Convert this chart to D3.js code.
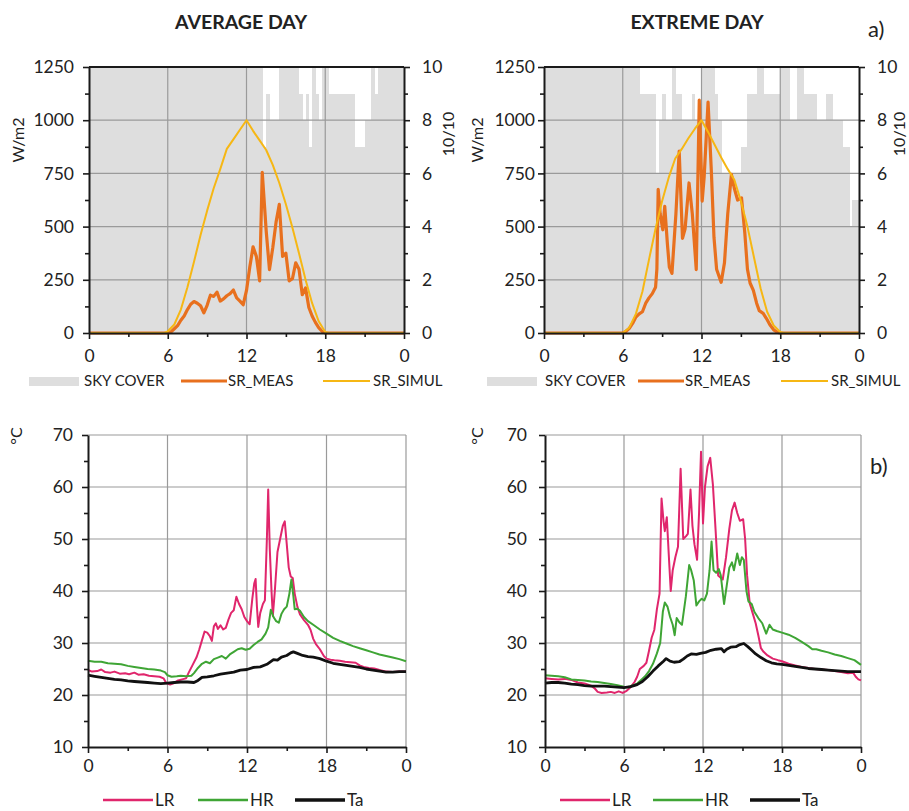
<!DOCTYPE html>
<html>
<head>
<meta charset="utf-8">
<script src="https://cdn.jsdelivr.net/npm/d3@7"></script>
<style>
  body { margin: 0; background: #fff; }
  svg text { font-family: Lato, "Open Sans", sans-serif; fill: #222; }
</style>
</head>
<body>
<div id="fig"></div>
<script>
// ---- axis ticks / labels ----
const hourTicks = [0, 6, 12, 18, 24];
const hourLabels = ["0", "6", "12", "18", "0"];
const hourMinor = [3, 9, 15, 21];
const srTicks = [0, 250, 500, 750, 1000, 1250];
const srMinor = [125, 375, 625, 875, 1125];
const skyTicks = [0, 2, 4, 6, 8, 10];
const skyMinor = [1, 3, 5, 7, 9];
const tempTicks = [10, 20, 30, 40, 50, 60, 70];
const tempMinor = [15, 25, 35, 45, 55, 65];

// ---- sky cover, tenths, one value per 15 min (96) ----
const avgSky = [
  10,10,10,10,10,10,10,10,10,10,10,10,10,10,10,10,10,10,10,10,10,10,10,10,
  10,10,10,10,10,10,10,10,10,10,10,10,10,10,10,10,10,10,10,10,10,10,10,10,
  10,10,10,10,10,7,9,8,8,8,10,10,10,10,10,10,9,8,9,7,10,9,8,10,
  10,9,9,9,9,9,9,9,9,7,7,7,8,8,10,9,10,10,10,10,10,10,10,10
];
const extSky = [
  10,10,10,10,10,10,10,10,10,10,10,10,10,10,10,10,10,10,10,10,10,10,10,10,
  10,10,10,10,10,9,9,9,9,9,6,8,9,8,8,10,9,9,8,8,8,9,8,8,
  10,10,10,10,9,8,6,6,6,6,6,6,7,7,9,9,9,10,10,9,9,9,9,9,
  10,10,10,8,8,10,10,9,9,9,9,8,8,8,9,9,8,8,8,7,7,4,5,5
];

// ---- solar radiation [hour, W/m2] ----
const avgMeas = [[0,0],[6,0],[6.25,5],[6.5,20],[6.75,35],[7,60],[7.25,80],[7.5,110],[7.75,135],[8,148],[8.25,140],[8.5,128],[8.75,95],[9,130],[9.25,178],[9.5,172],[9.75,192],[10,150],[10.25,160],[10.5,175],[10.75,185],[11,202],[11.25,165],[11.5,150],[11.75,133],[12,200],[12.25,310],[12.5,405],[12.75,360],[13,245],[13.2,755],[13.5,480],[13.75,298],[14,400],[14.25,520],[14.5,605],[14.75,360],[15,375],[15.25,245],[15.5,255],[15.75,330],[16,300],[16.25,180],[16.5,212],[16.75,120],[17,80],[17.25,50],[17.5,25],[17.75,8],[18,0],[24,0]];
const avgSimul = [[0,0],[5.75,0],[6,8],[6.5,40],[7,110],[7.5,215],[8,335],[8.5,460],[9,575],[9.5,680],[10,770],[10.5,865],[11,910],[11.5,955],[12,1000],[12.5,950],[13,905],[13.5,860],[14,790],[14.5,705],[15,605],[15.5,495],[16,375],[16.5,250],[17,140],[17.5,55],[18,5],[18.25,0],[24,0]];
const extMeas = [[0,0],[6,0],[6.25,8],[6.5,22],[6.75,45],[7,75],[7.25,90],[7.5,100],[7.75,140],[8,165],[8.25,185],[8.5,215],[8.6,300],[8.7,675],[8.85,560],[9.05,485],[9.2,595],[9.4,420],[9.55,310],[9.75,280],[10.05,560],[10.3,855],[10.55,445],[10.75,490],[11.05,705],[11.3,560],[11.6,298],[11.83,1095],[12.05,620],[12.2,730],[12.5,1085],[12.75,760],[12.95,450],[13.15,300],[13.5,238],[13.75,330],[14,560],[14.28,745],[14.5,680],[14.75,625],[15.05,635],[15.3,470],[15.5,300],[15.7,235],[15.95,200],[16.2,140],[16.4,105],[16.7,92],[16.95,68],[17.2,40],[17.5,15],[17.8,3],[18,0],[24,0]];
const extSimul = [[0,0],[6,0],[6.5,25],[7,90],[7.5,195],[8,345],[8.5,490],[9,620],[9.5,730],[10,820],[10.5,865],[11,915],[11.5,960],[12,1000],[12.5,945],[13,885],[13.5,825],[14,770],[14.5,720],[15,620],[15.5,500],[16,355],[16.5,210],[17,100],[17.5,35],[18,5],[18.25,0],[24,0]];

// ---- temperatures [hour, degC] ----
const avgLR = [[0,24.8],[0.3,24.5],[0.7,24.6],[1,24.9],[1.3,24.4],[1.7,24.3],[2,24.5],[2.4,24.1],[2.8,24.2],[3.1,24.0],[3.5,24.3],[3.8,23.9],[4.2,24.0],[4.6,23.7],[5,23.6],[5.4,23.5],[5.7,23.2],[5.9,22.3],[6.2,22.0],[6.5,22.3],[6.8,22.8],[7.1,23.0],[7.4,23.2],[7.6,24.3],[7.9,25.8],[8.2,27.3],[8.4,28.8],[8.6,30.5],[8.8,32.2],[9.0,32.0],[9.2,31.3],[9.35,30.4],[9.5,33.2],[9.65,33.8],[9.8,32.7],[10.0,33.4],[10.2,32.6],[10.4,32.9],[10.6,34.5],[10.8,35.8],[11.0,36.3],[11.2,38.9],[11.4,37.5],[11.6,36.5],[11.8,35.0],[12.0,34.2],[12.2,33.6],[12.4,38.5],[12.55,41.5],[12.65,42.3],[12.75,37.0],[12.85,33.1],[13.0,35.8],[13.2,37.5],[13.35,38.2],[13.5,50.0],[13.6,59.5],[13.72,48.0],[13.85,40.0],[13.95,35.2],[14.1,40.0],[14.3,47.5],[14.5,50.0],[14.7,52.5],[14.85,53.4],[15.0,49.0],[15.15,44.5],[15.3,42.8],[15.45,42.5],[15.6,39.5],[15.8,37.0],[16.0,35.5],[16.3,34.4],[16.6,33.5],[16.8,32.5],[17.0,30.8],[17.2,29.8],[17.5,28.8],[17.8,27.5],[18.0,27.0],[18.3,26.8],[18.6,26.7],[19.0,26.6],[19.4,26.4],[19.8,26.3],[20.2,26.2],[20.5,25.7],[20.8,25.4],[21.2,25.2],[21.6,25.1],[22.0,24.8],[22.5,24.5],[23,24.4],[23.5,24.5],[24,24.5]];
const avgHR = [[0,26.6],[0.5,26.4],[1,26.4],[1.5,26.1],[2,26.0],[2.5,25.9],[3,25.6],[3.5,25.4],[4,25.2],[4.5,25.0],[5,24.9],[5.5,24.7],[5.8,24.4],[6.0,23.8],[6.3,23.5],[6.7,23.6],[7.0,23.7],[7.4,23.6],[7.8,23.7],[8.0,24.2],[8.3,25.2],[8.6,26.0],[8.9,26.4],[9.2,26.1],[9.5,26.9],[9.8,27.2],[10.1,27.5],[10.4,27.0],[10.7,27.8],[11.0,28.3],[11.3,28.8],[11.6,29.0],[11.9,28.7],[12.2,28.9],[12.5,29.6],[12.8,30.2],[13.1,30.7],[13.4,31.8],[13.6,33.0],[13.8,36.4],[14.0,35.0],[14.2,34.2],[14.4,33.9],[14.6,35.6],[14.8,36.5],[15.0,37.0],[15.2,39.5],[15.35,42.2],[15.5,39.0],[15.6,36.5],[15.8,36.6],[16.0,36.2],[16.3,35.0],[16.6,34.2],[17.0,33.5],[17.5,32.6],[18.0,31.8],[18.5,31.0],[19.0,30.4],[19.5,29.9],[20.0,29.4],[20.5,29.0],[21.0,28.6],[21.5,28.2],[22.0,27.8],[22.5,27.5],[23.0,27.2],[23.5,26.9],[24,26.5]];
const avgTa = [[0,23.8],[0.5,23.6],[1,23.4],[1.5,23.2],[2,23.0],[2.5,22.9],[3,22.7],[3.5,22.6],[4,22.5],[4.5,22.4],[5,22.3],[5.5,22.2],[6,22.3],[6.5,22.4],[7,22.5],[7.5,22.5],[8,22.4],[8.3,22.8],[8.6,23.4],[9,23.5],[9.5,23.7],[10,24.0],[10.5,24.2],[11,24.4],[11.5,24.8],[12,24.9],[12.5,25.3],[13,25.4],[13.5,25.9],[14,26.8],[14.3,26.7],[14.6,27.3],[15,27.6],[15.3,28.1],[15.5,28.3],[15.8,28.0],[16.2,27.6],[16.6,27.4],[17,27.3],[17.5,27.0],[18,26.5],[18.5,26.1],[19,25.9],[19.5,25.7],[20,25.5],[20.5,25.3],[21,25.0],[21.5,24.8],[22,24.6],[22.5,24.4],[23,24.4],[23.5,24.5],[24,24.5]];
const extLR = [[0,23.2],[0.5,23.1],[1,23.0],[1.5,23.1],[2,22.9],[2.5,22.4],[3,22.2],[3.5,21.8],[3.8,21.2],[4.0,20.6],[4.3,20.4],[4.7,20.5],[5.0,20.6],[5.3,20.4],[5.6,20.7],[5.9,20.4],[6.2,20.8],[6.5,21.5],[6.8,22.5],[7.0,23.5],[7.2,25.0],[7.5,25.6],[7.7,26.2],[7.9,28.5],[8.1,31.0],[8.3,32.5],[8.5,36.5],[8.7,39.5],[8.85,57.8],[9.0,53.5],[9.1,51.5],[9.25,54.2],[9.4,47.0],[9.55,40.0],[9.7,44.0],[9.9,46.5],[10.1,48.5],[10.3,63.5],[10.5,50.0],[10.7,50.5],[10.85,51.0],[11.05,59.5],[11.2,52.5],[11.35,49.0],[11.55,46.0],[11.7,55.0],[11.85,66.8],[12.0,53.0],[12.15,60.0],[12.35,64.0],[12.55,65.6],[12.75,60.5],[12.95,52.0],[13.15,43.0],[13.5,42.2],[13.75,46.5],[14.0,52.0],[14.2,55.5],[14.4,57.0],[14.6,55.0],[14.8,53.5],[15.05,53.8],[15.2,50.0],[15.35,43.0],[15.55,37.6],[15.8,35.5],[16.0,33.8],[16.2,31.5],[16.4,29.0],[16.6,28.3],[16.9,27.6],[17.3,27.0],[17.7,26.7],[18,26.5],[18.5,26.0],[19,25.7],[19.5,25.4],[20,25.2],[20.5,25.0],[21,24.9],[21.5,24.8],[22,24.6],[22.5,24.4],[23,24.2],[23.4,24.3],[23.6,23.5],[23.8,23.0],[24,22.8]];
const extHR = [[0,23.8],[0.5,23.7],[1,23.6],[1.5,23.4],[2,23.0],[2.5,22.9],[3,22.8],[3.5,22.6],[4,22.5],[4.5,22.3],[5,22.1],[5.5,21.9],[6,21.6],[6.3,21.5],[6.6,21.8],[7,22.2],[7.3,22.9],[7.6,23.6],[7.9,24.6],[8.2,26.0],[8.5,28.0],[8.75,30.0],[8.95,36.0],[9.1,37.8],[9.3,37.0],[9.5,35.0],[9.7,33.5],[9.85,31.5],[10.0,34.8],[10.2,34.0],[10.4,33.5],[10.7,39.0],[10.95,45.0],[11.1,44.0],[11.3,42.0],[11.5,37.2],[11.7,38.0],[11.9,38.5],[12.1,38.2],[12.3,39.5],[12.5,44.0],[12.65,49.5],[12.8,44.0],[13.0,43.5],[13.2,44.2],[13.35,43.0],[13.6,37.5],[13.8,41.0],[14.0,44.5],[14.2,45.5],[14.35,44.0],[14.6,47.2],[14.8,45.0],[14.95,46.5],[15.1,46.0],[15.3,40.0],[15.45,38.0],[15.7,37.5],[15.9,36.0],[16.2,34.8],[16.5,33.8],[16.8,31.8],[17.05,33.5],[17.3,32.6],[17.6,32.3],[18,32.0],[18.5,31.6],[19,31.0],[19.5,30.2],[20,29.4],[20.3,28.8],[20.6,28.8],[21,28.5],[21.5,28.2],[22,27.8],[22.5,27.5],[23,27.1],[23.5,26.7],[24,25.8]];
const extTa = [[0,22.3],[0.5,22.4],[1,22.4],[1.5,22.3],[2,22.1],[2.5,22.0],[3,21.8],[3.5,21.7],[4,21.7],[4.5,21.7],[5,21.6],[5.5,21.5],[6,21.4],[6.5,21.6],[7,22.0],[7.4,22.6],[7.8,23.5],[8.2,24.6],[8.6,25.6],[9.0,26.5],[9.2,27.0],[9.5,26.5],[9.8,26.3],[10.2,26.4],[10.5,26.9],[10.8,27.5],[11.1,27.9],[11.5,27.8],[11.8,28.0],[12.2,28.2],[12.6,28.6],[13.0,28.8],[13.4,28.9],[13.6,28.3],[13.8,28.8],[14.1,29.2],[14.5,29.3],[14.8,29.7],[15.1,29.9],[15.4,29.3],[15.7,28.6],[16.0,27.9],[16.4,27.2],[16.8,26.6],[17.2,26.2],[17.6,26.0],[18,25.9],[18.5,25.7],[19,25.5],[19.5,25.3],[20,25.1],[20.5,25.0],[21,24.9],[21.5,24.8],[22,24.7],[22.5,24.6],[23,24.5],[23.5,24.5],[24,24.5]];

// ---- styling ----
const C = {
  sky: "#dedede", grid: "#9a9a9a", axis: "#1a1a1a",
  meas: "#e8701e", simul: "#f6b714",
  lr: "#e0266c", hr: "#3fa535", ta: "#111111"
};
const FONT = 17.5;

const svg = d3.select("#fig").append("svg").attr("width", 909).attr("height", 811);

// little helper: style an axis group
const styleAxis = (sel) => {
  sel.attr("font-family", null).attr("font-size", FONT);
  sel.select(".domain").attr("stroke", C.axis).attr("stroke-width", 2);
  sel.selectAll(".tick line").attr("stroke", C.axis).attr("stroke-width", 1.6);
  sel.selectAll(".tick text").attr("fill", "#222");
};

const gridLines = (g, x, y, xs, ys) => {
  g.append("g").selectAll("line.h").data(ys).join("line")
    .attr("x1", x.range()[0]).attr("x2", x.range()[1])
    .attr("y1", d => y(d)).attr("y2", d => y(d))
    .attr("stroke", C.grid).attr("stroke-width", 1.2);
  g.append("g").selectAll("line.v").data(xs).join("line")
    .attr("x1", d => x(d)).attr("x2", d => x(d))
    .attr("y1", y.range()[0]).attr("y2", y.range()[1])
    .attr("stroke", C.grid).attr("stroke-width", 1.2);
};

const hourAxis = (g, x, y0, pad) => {
  g.append("g").attr("transform", `translate(0,${y0})`)
    .call(d3.axisBottom(x).tickValues(hourTicks).tickFormat((d, i) => hourLabels[i])
      .tickSizeInner(6).tickSizeOuter(0).tickPadding(pad))
    .call(styleAxis);
  g.append("g").attr("transform", `translate(0,${y0})`)
    .call(d3.axisBottom(x).tickValues(hourMinor).tickFormat("").tickSize(4))
    .call(s => { s.select(".domain").remove(); s.selectAll("line").attr("stroke", C.axis).attr("stroke-width", 1.6); });
};

const sideAxis = (g, axisFn, scale, pos, major, minor, pad) => {
  g.append("g").attr("transform", `translate(${pos},0)`)
    .call(axisFn(scale).tickValues(major).tickFormat(d3.format("d"))
      .tickSizeInner(6).tickSizeOuter(0).tickPadding(pad))
    .call(styleAxis);
  g.append("g").attr("transform", `translate(${pos},0)`)
    .call(axisFn(scale).tickValues(minor).tickFormat("").tickSize(4))
    .call(s => { s.select(".domain").remove(); s.selectAll("line").attr("stroke", C.axis).attr("stroke-width", 1.6); });
};

const rotLabel = (x, y, txt) =>
  svg.append("text").attr("transform", `translate(${x},${y}) rotate(-90)`)
    .attr("text-anchor", "middle").attr("dy", "0.35em").attr("font-size", 16).text(txt);

const line = (x, y) => d3.line().x(d => x(d[0])).y(d => y(d[1]));

// ---- solar panel (top row) ----
function solarPanel(p) {
  const x = d3.scaleLinear().domain([0, 24]).range([p.x0, p.x1]);
  const y = d3.scaleLinear().domain([0, 1250]).range([p.y1, p.y0]);
  const ys = d3.scaleLinear().domain([0, 10]).range([p.y1, p.y0]);
  const g = svg.append("g");

  const bw = x(0.25) - x(0);
  g.append("g").selectAll("rect").data(p.sky).join("rect")
    .attr("x", (d, i) => x(i * 0.25)).attr("width", bw + 0.4)
    .attr("y", d => ys(d)).attr("height", d => ys(0) - ys(d))
    .attr("fill", C.sky).attr("shape-rendering", "crispEdges");

  gridLines(g, x, y, [6, 12, 18], [250, 500, 750, 1000]);
  g.append("line").attr("x1", p.x0).attr("x2", p.x1).attr("y1", p.y0).attr("y2", p.y0)
    .attr("stroke", C.axis).attr("stroke-width", 2);

  g.append("path").datum(p.meas).attr("d", line(x, y))
    .attr("fill", "none").attr("stroke", C.meas).attr("stroke-width", 3.2).attr("stroke-linejoin", "round");
  g.append("path").datum(p.simul).attr("d", line(x, y))
    .attr("fill", "none").attr("stroke", C.simul).attr("stroke-width", 2).attr("stroke-linejoin", "round");

  sideAxis(g, d3.axisLeft, y, p.x0, srTicks, srMinor, p.padL);
  sideAxis(g, d3.axisRight, ys, p.x1, skyTicks, skyMinor, p.padR);
  hourAxis(g, x, p.y1, 11);

  rotLabel(p.yLabX, 140, "W/m2");
  rotLabel(p.rLabX, 134, "10/10");

  // legend
  const L = svg.append("g").attr("font-size", 15);
  const ly = 381;
  L.append("rect").attr("x", p.leg[0]).attr("y", ly - 4).attr("width", 50).attr("height", 9).attr("fill", C.sky);
  L.append("text").attr("x", p.leg[1]).attr("y", ly).attr("dy", "0.35em").text("SKY COVER");
  L.append("line").attr("x1", p.leg[2]).attr("x2", p.leg[2] + 46).attr("y1", ly).attr("y2", ly)
    .attr("stroke", C.meas).attr("stroke-width", 3);
  L.append("text").attr("x", p.leg[2] + 47).attr("y", ly).attr("dy", "0.35em").text("SR_MEAS");
  L.append("line").attr("x1", p.leg[3]).attr("x2", p.leg[3] + 47).attr("y1", ly).attr("y2", ly)
    .attr("stroke", C.simul).attr("stroke-width", 2);
  L.append("text").attr("x", p.leg[3] + 50).attr("y", ly).attr("dy", "0.35em").text("SR_SIMUL");
}

// ---- temperature panel (bottom row) ----
function tempPanel(p) {
  const x = d3.scaleLinear().domain([0, 24]).range([p.x0, p.x1]);
  const y = d3.scaleLinear().domain([10, 70]).range([p.y1, p.y0]);
  const g = svg.append("g");

  gridLines(g, x, y, [6, 12, 18, 24], [20, 30, 40, 50, 60, 70]);

  g.append("path").datum(p.lr).attr("d", line(x, y))
    .attr("fill", "none").attr("stroke", C.lr).attr("stroke-width", 2).attr("stroke-linejoin", "round");
  g.append("path").datum(p.hr).attr("d", line(x, y))
    .attr("fill", "none").attr("stroke", C.hr).attr("stroke-width", 2).attr("stroke-linejoin", "round");
  g.append("path").datum(p.ta).attr("d", line(x, y))
    .attr("fill", "none").attr("stroke", C.ta).attr("stroke-width", 2.8).attr("stroke-linejoin", "round");

  sideAxis(g, d3.axisLeft, y, p.x0, tempTicks, tempMinor, p.padL);
  hourAxis(g, x, p.y1, 7);

  rotLabel(p.yLabX, 436, "°C");

  const L = svg.append("g").attr("font-size", 17);
  const ly = 800;
  [["LR", C.lr, 2], ["HR", C.hr, 2], ["Ta", C.ta, 2.8]].forEach((s, i) => {
    L.append("line").attr("x1", p.leg[i]).attr("x2", p.leg[i] + 50).attr("y1", ly).attr("y2", ly)
      .attr("stroke", s[1]).attr("stroke-width", s[2] + 0.6);
    L.append("text").attr("x", p.leg[i] + 52).attr("y", ly).attr("dy", "0.35em").text(s[0]);
  });
}

solarPanel({ x0: 89, x1: 404, y0: 67, y1: 333, sky: avgSky, meas: avgMeas, simul: avgSimul,
  padL: 9, padR: 12, yLabX: 18, rLabX: 448, leg: [29, 84, 181, 323] });
solarPanel({ x0: 544, x1: 859, y0: 67, y1: 333, sky: extSky, meas: extMeas, simul: extSimul,
  padL: 3, padR: 12, yLabX: 477, rLabX: 899, leg: [487, 545, 638, 781] });

tempPanel({ x0: 88, x1: 406, y0: 435, y1: 747, lr: avgLR, hr: avgHR, ta: avgTa,
  padL: 9, yLabX: 16, leg: [103, 198, 295] });
tempPanel({ x0: 545, x1: 861, y0: 435, y1: 747, lr: extLR, hr: extHR, ta: extTa,
  padL: 12, yLabX: 477, leg: [560, 653, 750] });

// titles and panel letters
svg.append("text").attr("x", 241).attr("y", 29).attr("text-anchor", "middle")
  .attr("font-size", 19.5).attr("font-weight", 700).text("AVERAGE DAY");
svg.append("text").attr("x", 697).attr("y", 29).attr("text-anchor", "middle")
  .attr("font-size", 19.5).attr("font-weight", 700).text("EXTREME DAY");
svg.append("text").attr("x", 868).attr("y", 37).attr("font-size", 22).text("a)");
svg.append("text").attr("x", 870).attr("y", 474).attr("font-size", 22).text("b)");
</script>
</body>
</html>
